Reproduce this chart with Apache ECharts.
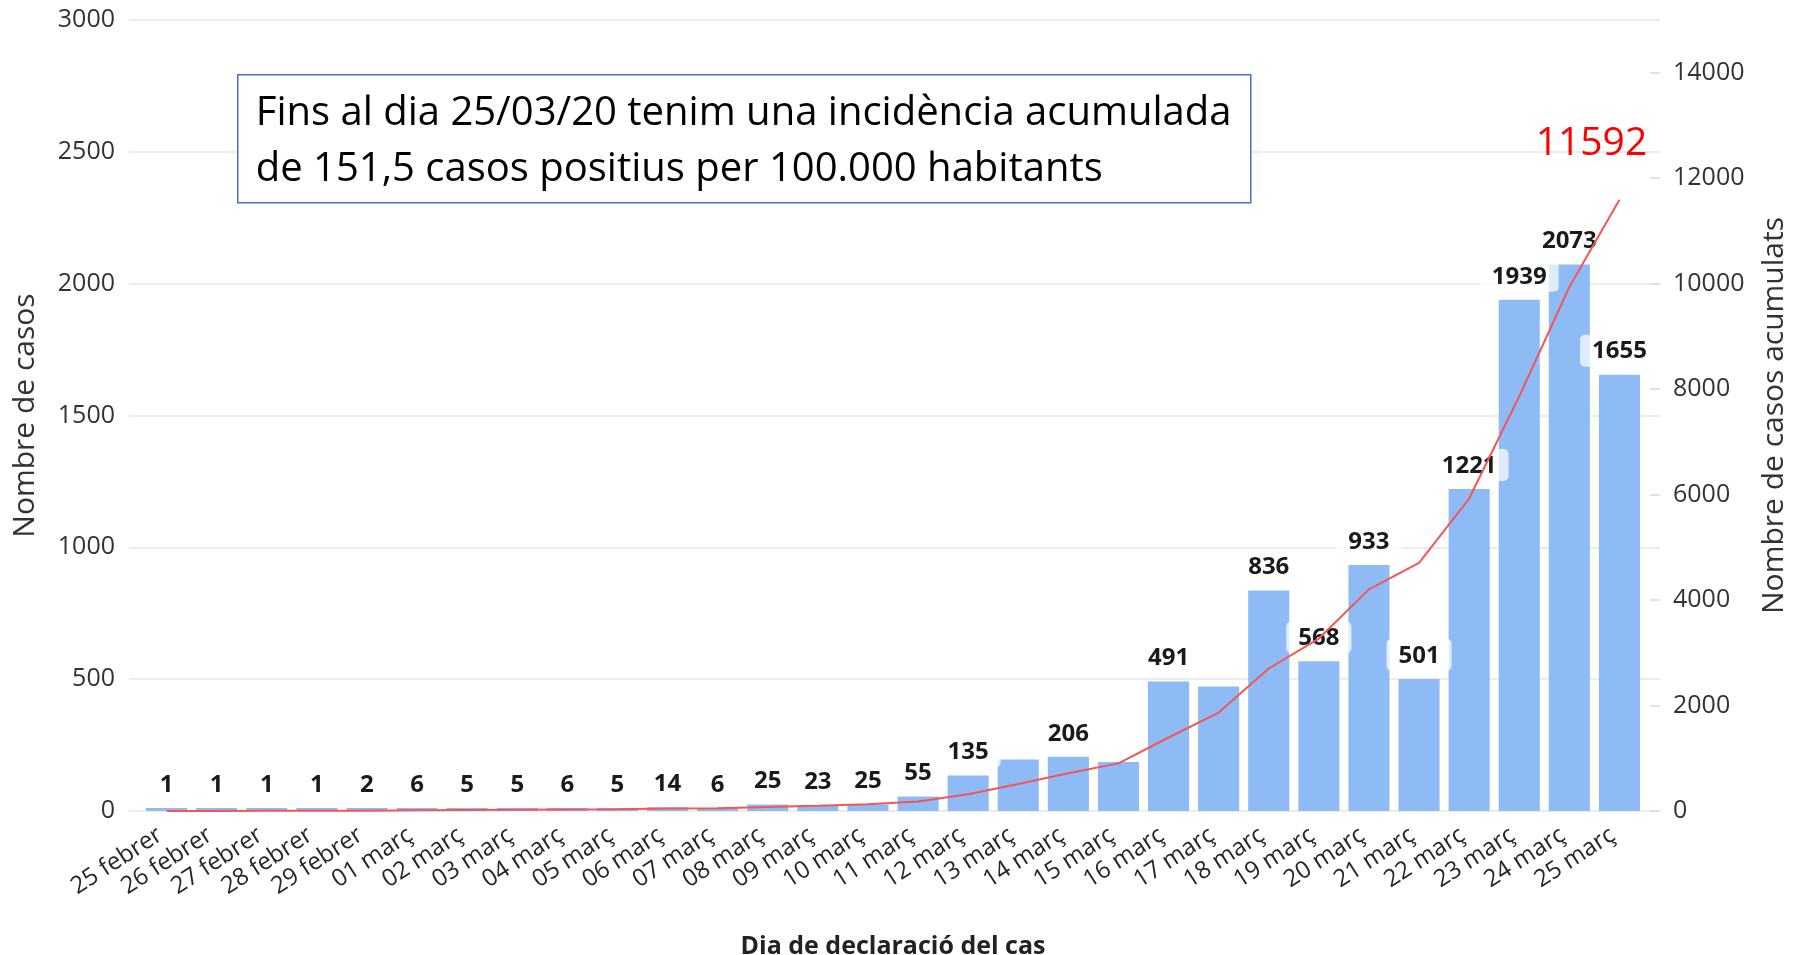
<!DOCTYPE html>
<html>
<head>
<meta charset="utf-8">
<title>Casos COVID-19</title>
<script src="https://cdn.jsdelivr.net/npm/echarts@6/dist/echarts.min.js"></script>
<style>
  html, body { margin: 0; padding: 0; background: #fff; }
  #chart { width: 1803px; height: 955px; }
</style>
</head>
<body>
<div id="chart"></div>
<script>
const days = [
  '25 febrer', '26 febrer', '27 febrer', '28 febrer', '29 febrer',
  '01 març', '02 març', '03 març', '04 març', '05 març', '06 març', '07 març',
  '08 març', '09 març', '10 març', '11 març', '12 març', '13 març', '14 març',
  '15 març', '16 març', '17 març', '18 març', '19 març', '20 març', '21 març',
  '22 març', '23 març', '24 març', '25 març'
]
const newCases = [
  1, 1, 1, 1, 2, 6, 5, 5, 6, 5, 14, 6, 25, 23, 25, 55, 135, 195, 206,
  186, 491, 472, 836, 568, 933, 501, 1221, 1939, 2073, 1655
]
const cumulative = [
  1, 2, 3, 4, 6, 12, 17, 22, 28, 33, 47, 53, 78, 101, 126, 181, 316, 511, 717,
  903, 1394, 1866, 2702, 3270, 4203, 4704, 5925, 7864, 9937, 11592
]
// days whose bar value is not written in the picture
const unlabeledDays = ['13 març', '15 març', '17 març']

const leftMax = 3000
const leftStep = 500
const rightMax = 15000
const rightStep = 2000

const noteLines = [
  'Fins al dia 25/03/20 tenim una incidència acumulada',
  'de 151,5 casos positius per 100.000 habitants'
]

const font = "'Open Sans', 'DejaVu Sans', sans-serif"

const chart = echarts.init(document.getElementById('chart'))

const barData = newCases.map((v, i) =>
  unlabeledDays.includes(days[i]) ? { value: v, label: { show: false } } : v
)

const option = {
  backgroundColor: '#fff',
  animation: false,
  textStyle: { fontFamily: font },
  grid: [
    // frame grid: split lines and the two visible value axes
    { left: 129, right: 143, top: 20, bottom: 144, outerBoundsMode: 'none' },
    // series grid: category bands sit a little inside the split lines
    { left: 141.5, right: 158.5, top: 20, bottom: 144, outerBoundsMode: 'none' }
  ],
  xAxis: [
    { gridIndex: 0, type: 'value', min: 0, max: 1, show: false },
    {
      gridIndex: 1,
      type: 'category',
      data: days,
      axisLine: { show: false },
      axisTick: { show: false },
      axisLabel: {
        interval: 0,
        rotate: 33,
        margin: 32,
        verticalAlign: 'bottom',
        fontSize: 24,
        color: '#262626',
        fontFamily: font
      },
      name: 'Dia de declaració del cas',
      nameLocation: 'middle',
      nameGap: 123,
      nameMoveOverlap: false,
      nameTextStyle: { fontSize: 25, fontWeight: 'bold', color: '#222', fontFamily: font }
    }
  ],
  yAxis: [
    {
      gridIndex: 0,
      type: 'value',
      min: 0,
      max: leftMax,
      interval: leftStep,
      axisLine: { show: false },
      axisTick: { show: false },
      axisLabel: {
        fontSize: 25,
        color: '#333',
        margin: 14,
        fontFamily: font,
        formatter: v => String(v)
      },
      splitLine: { lineStyle: { color: '#e6e6e6', width: 1.5 } },
      name: 'Nombre de casos',
      nameLocation: 'middle',
      nameGap: 89,
      nameMoveOverlap: false,
      nameTextStyle: { fontSize: 30, color: '#333', fontFamily: font }
    },
    {
      gridIndex: 0,
      type: 'value',
      position: 'right',
      min: 0,
      max: rightMax,
      interval: rightStep,
      axisLine: { show: false },
      axisTick: { show: true, inside: true, length: 10, lineStyle: { color: '#d9d9d9', width: 1.5 } },
      axisLabel: {
        fontSize: 25,
        color: '#333',
        margin: 13,
        showMaxLabel: false,
        fontFamily: font,
        formatter: v => String(v)
      },
      splitLine: { show: false },
      name: 'Nombre de casos acumulats',
      nameLocation: 'middle',
      nameGap: 99,
      nameMoveOverlap: false,
      nameTextStyle: { fontSize: 30, color: '#333', fontFamily: font }
    },
    { gridIndex: 1, type: 'value', min: 0, max: leftMax, show: false },
    { gridIndex: 1, type: 'value', min: 0, max: rightMax, show: false }
  ],
  series: [
    {
      name: 'Nombre de casos',
      type: 'bar',
      xAxisIndex: 1,
      yAxisIndex: 2,
      data: barData,
      barCategoryGap: '18%',
      barMinHeight: 3,
      itemStyle: { color: '#8ebbf5' },
      label: {
        show: true,
        position: 'top',
        distance: 8,
        fontSize: 24,
        fontWeight: 'bold',
        color: '#1a1a1a',
        fontFamily: font,
        backgroundColor: 'rgba(255,255,255,0.72)',
        borderRadius: 5,
        padding: [5, 12, 3, 12]
      }
    },
    {
      name: 'Nombre de casos acumulats',
      type: 'line',
      xAxisIndex: 1,
      yAxisIndex: 3,
      data: cumulative,
      showSymbol: false,
      symbol: 'none',
      lineStyle: { color: '#f45656', width: 2 },
      itemStyle: { color: '#f45656' },
      endLabel: {
        show: true,
        formatter: p => String(p.value),
        distance: 0,
        align: 'center',
        verticalAlign: 'middle',
        offset: [-28, -56],
        color: '#ff0000',
        fontSize: 39,
        fontFamily: font
      }
    }
  ],
  graphic: [
    {
      type: 'group',
      left: 237,
      top: 74,
      z: 100,
      children: [
        {
          type: 'rect',
          z: 100,
          shape: { x: 0, y: 0, width: 1013, height: 128 },
          style: { fill: '#fff', stroke: '#4472c4', lineWidth: 1.5 }
        },
        {
          type: 'text',
          z: 101,
          x: 18,
          y: 67,
          style: {
            text: noteLines.join('\n'),
            font: "40px 'Open Sans', sans-serif",
            lineHeight: 56,
            fill: '#000',
            verticalAlign: 'middle'
          }
        }
      ]
    }
  ]
}

chart.setOption(option)

window.addEventListener('resize', () => {
  chart.resize()
})
</script>
</body>
</html>
